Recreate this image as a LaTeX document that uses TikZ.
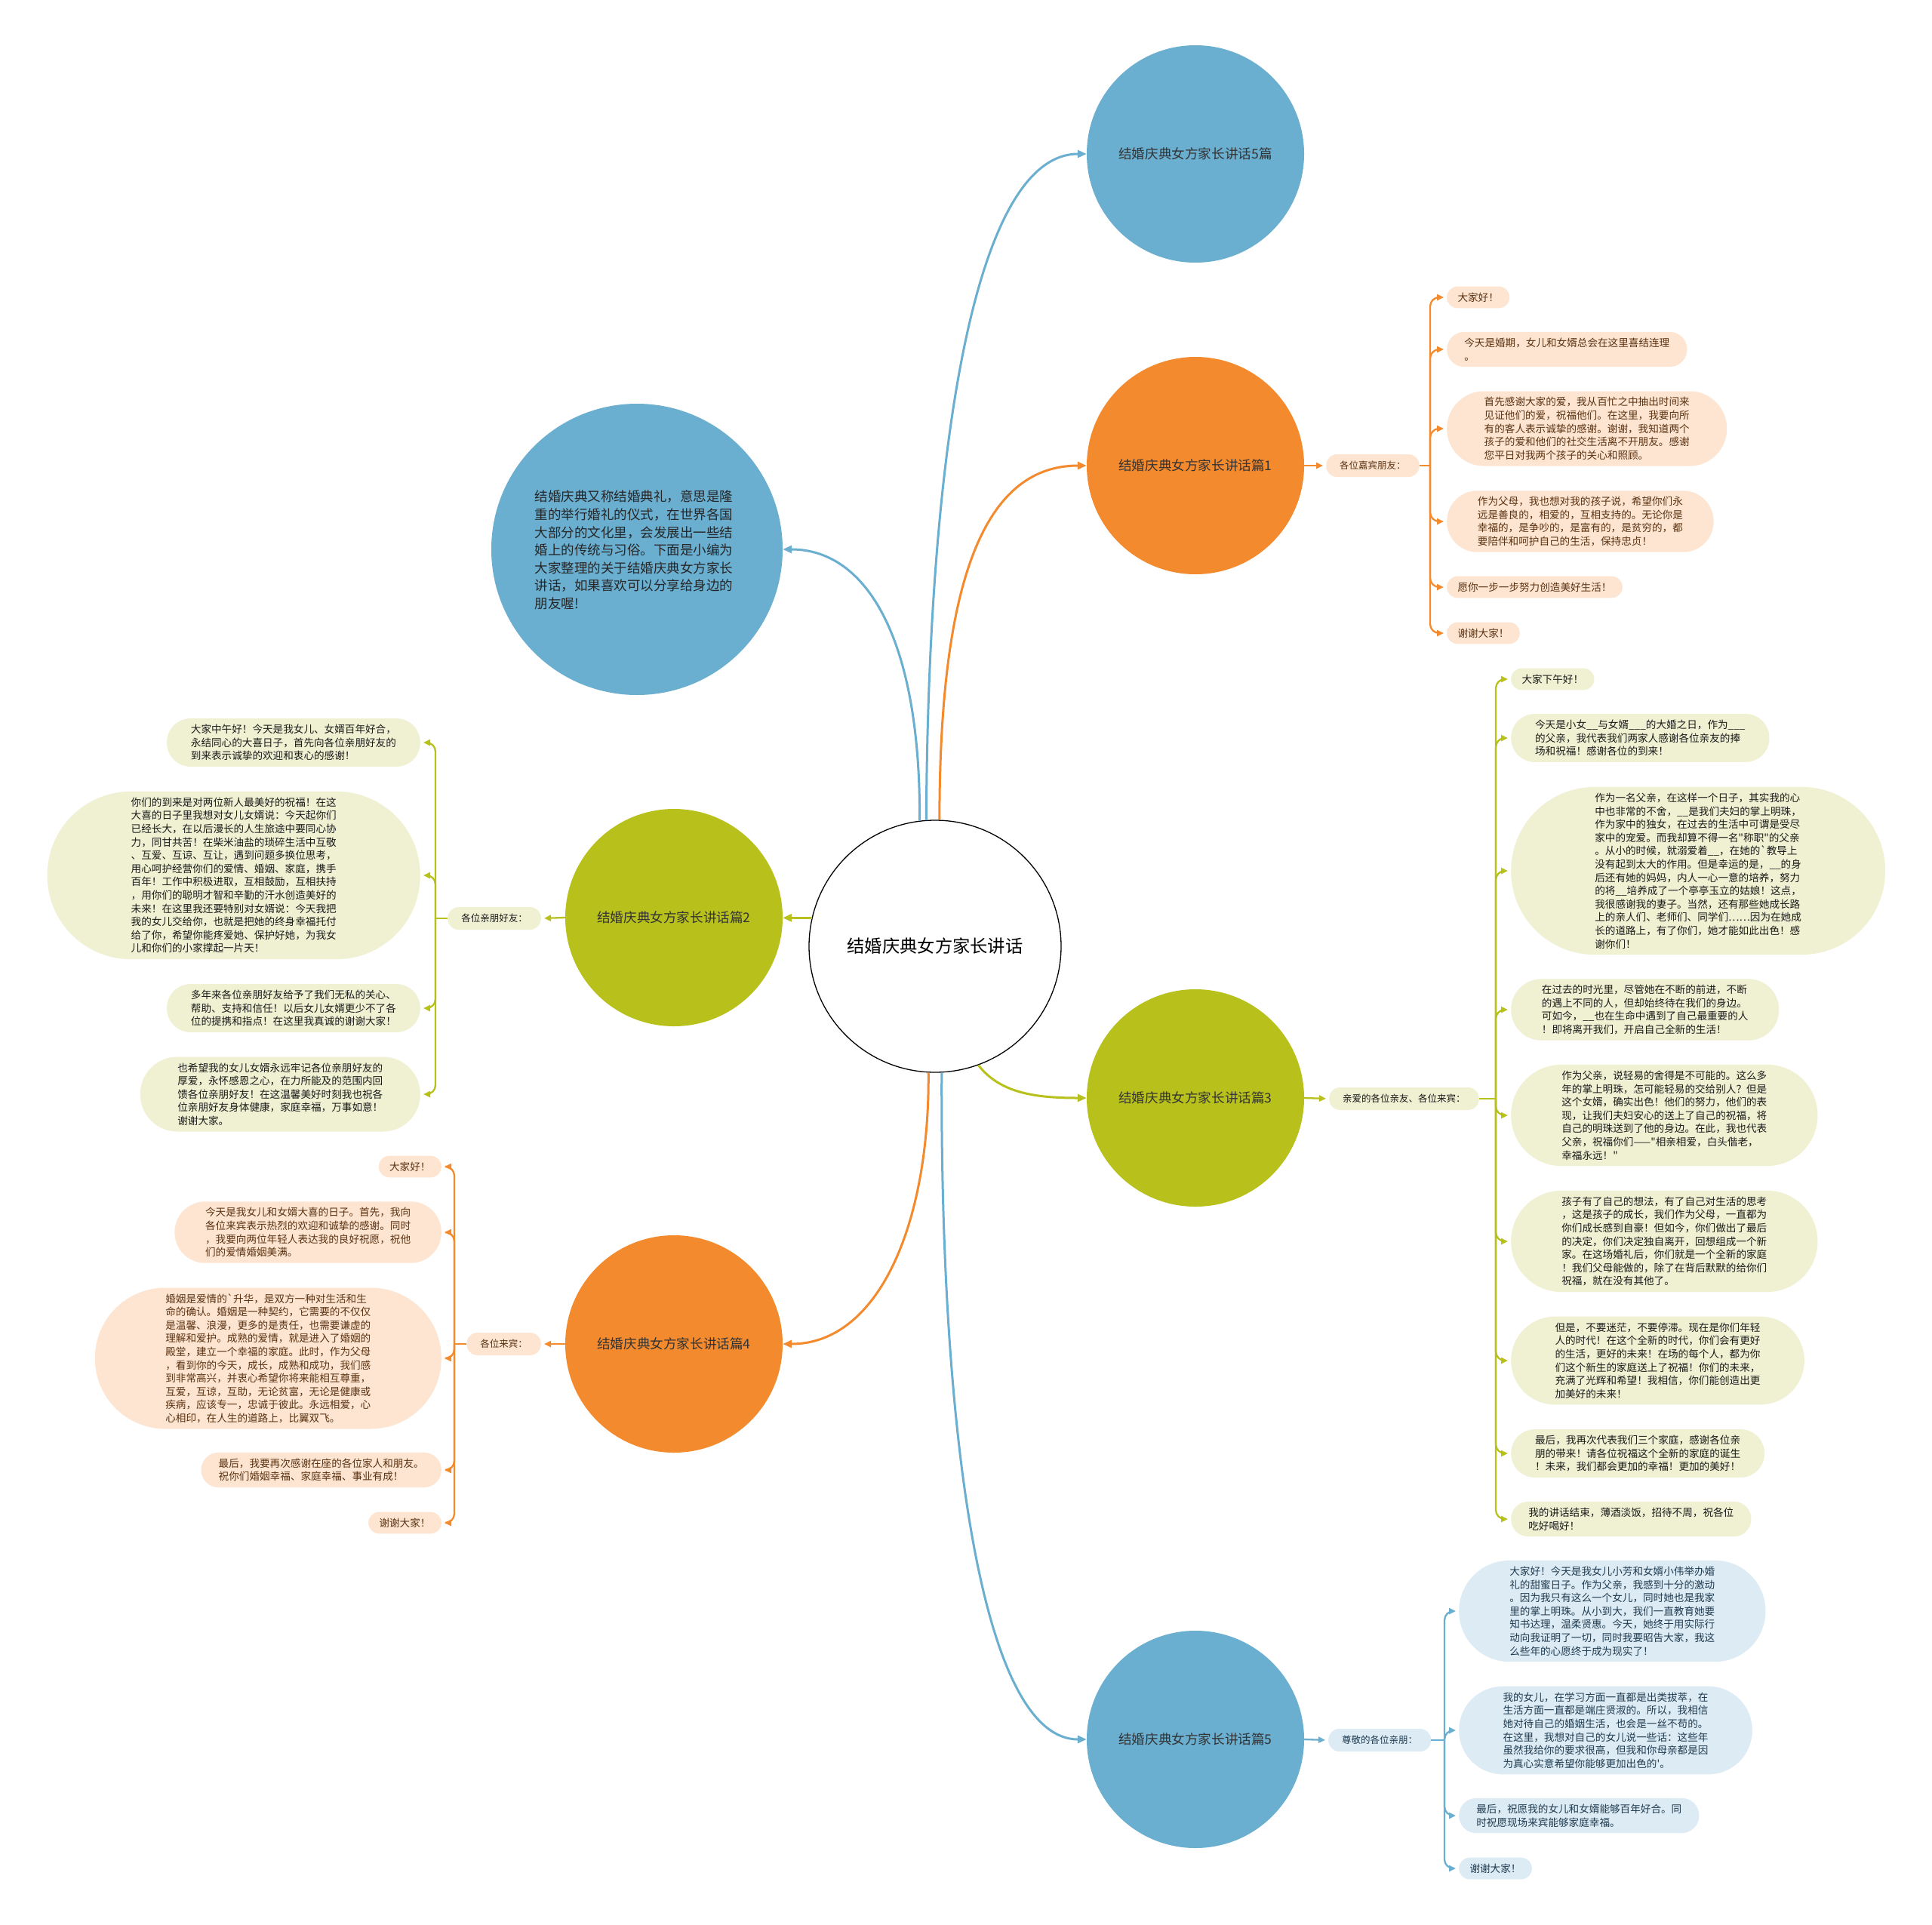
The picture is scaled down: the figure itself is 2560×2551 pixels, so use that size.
\documentclass[tikz,border=0pt]{standalone}
\usepackage{fontspec}
\setmainfont{Noto Sans CJK SC}[Ligatures=TeXOff]
\usetikzlibrary{arrows.meta}
\definecolor{cblue}{HTML}{6AAED0}
\definecolor{corange}{HTML}{F38A2E}
\definecolor{cgreen}{HTML}{B8C11B}
\definecolor{lblue}{HTML}{DDEBF4}
\definecolor{lorange}{HTML}{FDE5D1}
\definecolor{lgreen}{HTML}{EFF1D2}
\definecolor{tblue}{HTML}{1F3B50}
\definecolor{torange}{HTML}{5A3212}
\definecolor{tgreen}{HTML}{1A1A1A}
\begin{document}
\begin{tikzpicture}[x=1pt,y=-1pt,
  bigc/.style={circle, minimum size=288pt, inner sep=0pt, font=\fontsize{17.6}{21}\selectfont, text=black!80},
  pill/.style={rectangle, minimum height={17.6pt*#1+11pt}, rounded corners={8.8pt*#1+5.2pt}, inner xsep={8.8pt*#1+5.5pt}, inner ysep=3pt, align=left, font=\fontsize{13.6}{17.6}\selectfont},
  lab/.style={rectangle, rounded corners=14.7pt, minimum height=30pt, inner xsep=18pt, inner ysep=3pt, font=\fontsize{12.5}{15}\selectfont},
  leafO/.style={pill=#1, fill=lorange, text=torange},
  leafG/.style={pill=#1, fill=lgreen, text=tgreen},
  leafB/.style={pill=#1, fill=lblue, text=tblue},
  mainc/.style={line width=3pt, -{Triangle[length=12pt,width=10pt]}},
  labc/.style={line width=2.3pt, -{Triangle[length=9pt,width=8pt]}, shorten >=4pt},
  stubc/.style={line width=2.3pt},
  leafc/.style={line width=2.3pt, rounded corners=12pt, -{Triangle[length=9pt,width=8pt]}, shorten >=4pt}
]
\path[fill=white] (0,0) rectangle (2560,2551);
\useasboundingbox (0,0) rectangle (2560,2551);

% central and branch circles
\node[circle, draw=black, line width=1.3pt, fill=white, minimum size=334pt, inner sep=0pt, font=\fontsize{23.3}{28}\selectfont] (c) at (1239,1254) {结婚庆典女方家长讲话};
\node[bigc, fill=cblue] (b5t) at (1584,204) {结婚庆典女方家长讲话5篇};
\node[bigc, fill=corange] (b1) at (1584,617) {结婚庆典女方家长讲话篇1};
\node[bigc, fill=cgreen] (b3) at (1584,1455) {结婚庆典女方家长讲话篇3};
\node[bigc, fill=cblue] (b5b) at (1584,2305) {结婚庆典女方家长讲话篇5};
\node[bigc, fill=cgreen] (b2) at (893,1216) {结婚庆典女方家长讲话篇2};
\node[bigc, fill=corange] (b4) at (893,1781) {结婚庆典女方家长讲话篇4};
\node[circle, fill=cblue, minimum size=386pt, inner sep=0pt] (intro) at (844,728) {};
\node[align=left, font=\fontsize{17.5}{23.6}\selectfont, text=black!85] (introtext) at (840,729) {结婚庆典又称结婚典礼，意思是隆\\重的举行婚礼的仪式，在世界各国\\大部分的文化里，会发展出一些结\\婚上的传统与习俗。下面是小编为\\大家整理的关于结婚庆典女方家长\\讲话，如果喜欢可以分享给身边的\\朋友喔!};

% main connectors
\draw[mainc, cblue] (c.94) .. controls (1230,600) and (1290,204) .. (b5t.west);
\draw[mainc, corange] (c.88) .. controls (1245,780) and (1300,617) .. (b1.west);
\draw[mainc, cblue] (c.97) .. controls (1220,850) and (1150,728) .. (intro.east);
\draw[mainc, cgreen] (c.167) -- (c.167 -| b2.east);
\draw[mainc, cgreen] (c.-70) .. controls (1325,1448) and (1370,1455) .. (b3.west);
\draw[mainc, cblue] (c.-87) .. controls (1246,1900) and (1300,2305) .. (b5b.west);
\draw[mainc, corange] (c.-93) .. controls (1232,1620) and (1165,1781) .. (b4.east);

% labels
\node[lab, fill=lorange, text=torange, anchor=west] (l1) at (1757,617) {各位嘉宾朋友：};
\node[lab, fill=lgreen, text=tgreen, anchor=west] (l3) at (1761,1456) {亲爱的各位亲友、各位来宾：};
\node[lab, fill=lblue, text=tblue, anchor=west] (l5) at (1760,2306) {尊敬的各位亲朋：};
\node[lab, fill=lgreen, text=tgreen, anchor=east] (l2) at (717,1217) {各位亲朋好友：};
\node[lab, fill=lorange, text=torange, anchor=east] (l4) at (717,1781) {各位来宾：};

\draw[labc, corange] (b1.east) -- (l1.west);
\draw[labc, cgreen] (b3.east) -- (l3.west);
\draw[labc, cblue] (b5b.east) -- (l5.west);
\draw[labc, cgreen] (b2.west) -- (l2.east);
\draw[labc, corange] (b4.west) -- (l4.east);

\coordinate (j1) at (1895,617);
\coordinate (j3) at (1982,1456);
\coordinate (j5) at (1914,2306);
\coordinate (j2) at (577,1217);
\coordinate (j4) at (602,1781);
\draw[stubc, corange] (l1.east) -- (j1);
\draw[stubc, cgreen] (l3.east) -- (j3);
\draw[stubc, cblue] (l5.east) -- (j5);
\draw[stubc, cgreen] (l2.west) -- (j2);
\draw[stubc, corange] (l4.west) -- (j4);

% branch 1 leaves
\node[leafO=1, anchor=west] (L1a) at (1917,394) {大家好！};
\node[leafO=2, anchor=west] (L1b) at (1917,463) {今天是婚期，女儿和女婿总会在这里喜结连理\\。};
\node[leafO=5, anchor=west] (L1c) at (1917,568) {首先感谢大家的爱，我从百忙之中抽出时间来\\见证他们的爱，祝福他们。在这里，我要向所\\有的客人表示诚挚的感谢。谢谢，我知道两个\\孩子的爱和他们的社交生活离不开朋友。感谢\\您平日对我两个孩子的关心和照顾。};
\node[leafO=4, anchor=west] (L1d) at (1917,691) {作为父母，我也想对我的孩子说，希望你们永\\远是善良的，相爱的，互相支持的。无论你是\\幸福的，是争吵的，是富有的，是贫穷的，都\\要陪伴和呵护自己的生活，保持忠贞！};
\node[leafO=1, anchor=west] (L1e) at (1917,778) {愿你一步一步努力创造美好生活！};
\node[leafO=1, anchor=west] (L1f) at (1917,839) {谢谢大家！};
\foreach \n in {L1a,L1b,L1c,L1d,L1e,L1f} \draw[leafc, corange] (j1) |- (\n.west);

% branch 3 leaves
\node[leafG=1, anchor=west] (L3a) at (2002,900) {大家下午好！};
\node[leafG=3, anchor=west] (L3b) at (2002,978) {今天是小女\_\_与女婿\_\_\_的大婚之日，作为\_\_\_\\的父亲，我代表我们两家人感谢各位亲友的捧\\场和祝福！感谢各位的到来！};
\node[leafG=12, anchor=west] (L3c) at (2002,1154) {作为一名父亲，在这样一个日子，其实我的心\\中也非常的不舍，\_\_是我们夫妇的掌上明珠，\\作为家中的独女，在过去的生活中可谓是受尽\\家中的宠爱。而我却算不得一名"称职"的父亲\\。从小的时候，就溺爱着\_\_，在她的`教导上\\没有起到太大的作用。但是幸运的是，\_\_的身\\后还有她的妈妈，内人一心一意的培养，努力\\的将\_\_培养成了一个亭亭玉立的姑娘！这点，\\我很感谢我的妻子。当然，还有那些她成长路\\上的亲人们、老师们、同学们……因为在她成\\长的道路上，有了你们，她才能如此出色！感\\谢你们！};
\node[leafG=4, anchor=west] (L3d) at (2002,1338) {在过去的时光里，尽管她在不断的前进，不断\\的遇上不同的人，但却始终待在我们的身边。\\可如今，\_\_也在生命中遇到了自己最重要的人\\！即将离开我们，开启自己全新的生活！};
\node[leafG=7, anchor=west] (L3e) at (2002,1478) {作为父亲，说轻易的舍得是不可能的。这么多\\年的掌上明珠，怎可能轻易的交给别人？但是\\这个女婿，确实出色！他们的努力，他们的表\\现，让我们夫妇安心的送上了自己的祝福，将\\自己的明珠送到了他的身边。在此，我也代表\\父亲，祝福你们——"相亲相爱，白头偕老，\\幸福永远！"};
\node[leafG=7, anchor=west] (L3f) at (2002,1645) {孩子有了自己的想法，有了自己对生活的思考\\，这是孩子的成长，我们作为父母，一直都为\\你们成长感到自豪！但如今，你们做出了最后\\的决定，你们决定独自离开，回想组成一个新\\家。在这场婚礼后，你们就是一个全新的家庭\\！我们父母能做的，除了在背后默默的给你们\\祝福，就在没有其他了。};
\node[leafG=6, anchor=west] (L3g) at (2002,1803) {但是，不要迷茫，不要停滞。现在是你们年轻\\人的时代！在这个全新的时代，你们会有更好\\的生活，更好的未来！在场的每个人，都为你\\们这个新生的家庭送上了祝福！你们的未来，\\充满了光辉和希望！我相信，你们能创造出更\\加美好的未来！};
\node[leafG=3, anchor=west] (L3h) at (2002,1926) {最后，我再次代表我们三个家庭，感谢各位亲\\朋的带来！请各位祝福这个全新的家庭的诞生\\！未来，我们都会更加的幸福！更加的美好！};
\node[leafG=2, anchor=west] (L3i) at (2002,2013) {我的讲话结束，薄酒淡饭，招待不周，祝各位\\吃好喝好！};
\foreach \n in {L3a,L3b,L3c,L3d,L3e,L3f,L3g,L3h,L3i} \draw[leafc, cgreen] (j3) |- (\n.west);

% branch 5 leaves
\node[leafB=7, anchor=west] (L5a) at (1933,2135) {大家好！今天是我女儿小芳和女婿小伟举办婚\\礼的甜蜜日子。作为父亲，我感到十分的激动\\。因为我只有这么一个女儿，同时她也是我家\\里的掌上明珠。从小到大，我们一直教育她要\\知书达理，温柔贤惠。今天，她终于用实际行\\动向我证明了一切，同时我要昭告大家，我这\\么些年的心愿终于成为现实了！};
\node[leafB=6, anchor=west] (L5b) at (1933,2293) {我的女儿，在学习方面一直都是出类拔萃，在\\生活方面一直都是端庄贤淑的。所以，我相信\\她对待自己的婚姻生活，也会是一丝不苟的。\\在这里，我想对自己的女儿说一些话：这些年\\虽然我给你的要求很高，但我和你母亲都是因\\为真心实意希望你能够更加出色的'。};
\node[leafB=2, anchor=west] (L5c) at (1933,2406) {最后，祝愿我的女儿和女婿能够百年好合。同\\时祝愿现场来宾能够家庭幸福。};
\node[leafB=1, anchor=west] (L5d) at (1933,2476) {谢谢大家！};
\foreach \n in {L5a,L5b,L5c,L5d} \draw[leafc, cblue] (j5) |- (\n.west);

% branch 2 leaves
\node[leafG=3, anchor=east] (L2a) at (557,984) {大家中午好！今天是我女儿、女婿百年好合，\\永结同心的大喜日子，首先向各位亲朋好友的\\到来表示诚挚的欢迎和衷心的感谢！};
\node[leafG=12, anchor=east] (L2b) at (557,1160) {你们的到来是对两位新人最美好的祝福！在这\\大喜的日子里我想对女儿女婿说：今天起你们\\已经长大，在以后漫长的人生旅途中要同心协\\力，同甘共苦！在柴米油盐的琐碎生活中互敬\\、互爱、互谅、互让，遇到问题多换位思考，\\用心呵护经营你们的爱情、婚姻、家庭，携手\\百年！工作中积极进取，互相鼓励，互相扶持\\，用你们的聪明才智和辛勤的汗水创造美好的\\未来！在这里我还要特别对女婿说：今天我把\\我的女儿交给你，也就是把她的终身幸福托付\\给了你，希望你能疼爱她、保护好她，为我女\\儿和你们的小家撑起一片天！};
\node[leafG=3, anchor=east] (L2c) at (557,1336) {多年来各位亲朋好友给予了我们无私的关心、\\帮助、支持和信任！以后女儿女婿更少不了各\\位的提携和指点！在这里我真诚的谢谢大家！};
\node[leafG=5, anchor=east] (L2d) at (557,1450) {也希望我的女儿女婿永远牢记各位亲朋好友的\\厚爱，永怀感恩之心，在力所能及的范围内回\\馈各位亲朋好友！在这温馨美好时刻我也祝各\\位亲朋好友身体健康，家庭幸福，万事如意！\\谢谢大家。};
\foreach \n in {L2a,L2b,L2c,L2d} \draw[leafc, cgreen] (j2) |- (\n.east);

% branch 4 leaves
\node[leafO=1, anchor=east] (L4a) at (585,1546) {大家好！};
\node[leafO=4, anchor=east] (L4b) at (585,1633) {今天是我女儿和女婿大喜的日子。首先，我向\\各位来宾表示热烈的欢迎和诚挚的感谢。同时\\，我要向两位年轻人表达我的良好祝愿，祝他\\们的爱情婚姻美满。};
\node[leafO=10, anchor=east] (L4c) at (585,1800) {婚姻是爱情的`升华，是双方一种对生活和生\\命的确认。婚姻是一种契约，它需要的不仅仅\\是温馨、浪漫，更多的是责任，也需要谦虚的\\理解和爱护。成熟的爱情，就是进入了婚姻的\\殿堂，建立一个幸福的家庭。此时，作为父母\\，看到你的今天，成长，成熟和成功，我们感\\到非常高兴，并衷心希望你将来能相互尊重，\\互爱，互谅，互助，无论贫富，无论是健康或\\疾病，应该专一，忠诚于彼此。永远相爱，心\\心相印，在人生的道路上，比翼双飞。};
\node[leafO=2, anchor=east] (L4d) at (585,1948) {最后，我要再次感谢在座的各位家人和朋友。\\祝你们婚姻幸福、家庭幸福、事业有成！};
\node[leafO=1, anchor=east] (L4e) at (585,2018) {谢谢大家！};
\foreach \n in {L4a,L4b,L4c,L4d,L4e} \draw[leafc, corange] (j4) |- (\n.east);
\end{tikzpicture}
\end{document}
